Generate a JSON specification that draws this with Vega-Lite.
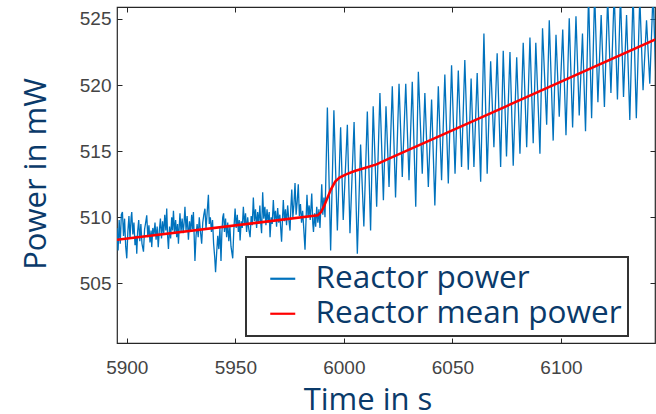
{
  "$schema": "https://vega.github.io/schema/vega-lite/v6.json",
  "autosize": "none",
  "width": 538,
  "height": 336,
  "padding": {"left": 117, "top": 7, "right": 1, "bottom": 71},
  "background": "white",
  "config": {
    "view": {"stroke": "#262626", "strokeWidth": 1.2},
    "axis": {
      "grid": false,
      "domain": false,
      "tickColor": "#262626",
      "tickSize": -5,
      "format": "d",
      "labelFont": "Liberation Sans",
      "labelFontSize": 19,
      "labelColor": "#444444",
      "titleFont": "Open Sans",
      "titleFontSize": 31,
      "titleFontWeight": "normal",
      "titleColor": "#0a3a6a"
    }
  },
  "resolve": {"axis": {"x": "independent", "y": "independent"}},
  "datasets": {
    "power": [
      {"t":5895.5,"p":509.2},{"t":5896.0,"p":507.5},{"t":5896.5,"p":509.8},{"t":5897.0,"p":508.0},{"t":5897.5,"p":510.2},{"t":5898.0,"p":510.4},{"t":5898.5,"p":508.6},{"t":5899.0,"p":509.9},{"t":5899.5,"p":507.8},{"t":5900.0,"p":506.9},
      {"t":5900.5,"p":508.9},{"t":5901.0,"p":510.1},{"t":5901.5,"p":508.4},{"t":5902.0,"p":510.0},{"t":5902.3,"p":510.4},{"t":5902.8,"p":508.7},{"t":5903.3,"p":509.6},{"t":5903.8,"p":507.9},{"t":5904.3,"p":508.6},{"t":5904.6,"p":507.25},
      {"t":5905.0,"p":508.9},{"t":5905.5,"p":509.8},{"t":5906.0,"p":508.2},{"t":5906.5,"p":509.5},{"t":5907.0,"p":508.0},{"t":5907.7,"p":507.4},{"t":5908.2,"p":509.1},{"t":5908.7,"p":509.6},{"t":5909.2,"p":510.15},{"t":5909.7,"p":508.5},
      {"t":5910.2,"p":509.4},{"t":5910.7,"p":508.1},{"t":5911.2,"p":509.0},{"t":5911.5,"p":507.75},{"t":5912.0,"p":509.2},{"t":5912.5,"p":508.6},{"t":5913.0,"p":509.6},{"t":5913.5,"p":508.3},{"t":5914.0,"p":509.3},{"t":5914.5,"p":507.75},
      {"t":5915.0,"p":509.0},{"t":5915.5,"p":509.9},{"t":5916.0,"p":508.4},{"t":5916.5,"p":509.7},{"t":5917.0,"p":508.7},{"t":5917.5,"p":510.2},{"t":5918.0,"p":509.0},{"t":5918.4,"p":510.66},{"t":5918.8,"p":508.6},{"t":5919.2,"p":507.6},
      {"t":5919.7,"p":509.3},{"t":5920.2,"p":508.4},{"t":5920.7,"p":510.0},{"t":5921.1,"p":509.0},{"t":5921.5,"p":510.5},{"t":5922.0,"p":508.8},{"t":5922.5,"p":509.8},{"t":5923.0,"p":508.5},{"t":5923.4,"p":509.5},{"t":5923.8,"p":508.0},
      {"t":5924.2,"p":509.4},{"t":5924.5,"p":510.3},{"t":5925.0,"p":508.9},{"t":5925.5,"p":509.9},{"t":5926.0,"p":508.8},{"t":5926.4,"p":509.6},{"t":5926.8,"p":510.8},{"t":5927.3,"p":509.0},{"t":5927.8,"p":510.1},{"t":5928.4,"p":508.3},
      {"t":5928.9,"p":509.7},{"t":5929.4,"p":508.9},{"t":5929.9,"p":510.2},{"t":5930.3,"p":509.1},{"t":5930.7,"p":510.4},{"t":5931.1,"p":508.3},{"t":5931.4,"p":506.7},{"t":5931.9,"p":508.6},{"t":5932.4,"p":509.5},{"t":5932.9,"p":508.5},
      {"t":5933.4,"p":510.0},{"t":5933.9,"p":509.0},{"t":5934.5,"p":508.0},{"t":5935.0,"p":509.6},{"t":5935.5,"p":510.2},{"t":5936.0,"p":510.65},{"t":5936.5,"p":509.1},{"t":5937.0,"p":510.3},{"t":5937.6,"p":511.7},{"t":5938.0,"p":509.5},
      {"t":5938.5,"p":510.0},{"t":5939.0,"p":508.9},{"t":5939.5,"p":509.8},{"t":5940.0,"p":508.0},{"t":5940.5,"p":507.0},{"t":5940.9,"p":505.85},{"t":5941.4,"p":507.3},{"t":5941.9,"p":508.6},{"t":5942.4,"p":507.6},{"t":5942.9,"p":509.2},
      {"t":5943.4,"p":506.7},{"t":5943.8,"p":508.8},{"t":5944.2,"p":510.0},{"t":5944.6,"p":510.3},{"t":5945.0,"p":508.9},{"t":5945.5,"p":509.9},{"t":5946.0,"p":508.5},{"t":5946.5,"p":509.6},{"t":5947.0,"p":508.2},{"t":5947.5,"p":509.3},
      {"t":5948.0,"p":507.8},{"t":5948.8,"p":506.9},{"t":5949.3,"p":509.0},{"t":5949.9,"p":510.66},{"t":5950.4,"p":509.2},{"t":5950.9,"p":510.2},{"t":5951.4,"p":508.9},{"t":5951.8,"p":509.8},{"t":5952.2,"p":508.26},{"t":5952.7,"p":509.7},
      {"t":5953.2,"p":509.2},{"t":5953.7,"p":510.8},{"t":5954.2,"p":509.4},{"t":5954.7,"p":510.3},{"t":5955.2,"p":508.9},{"t":5955.7,"p":510.0},{"t":5956.2,"p":509.1},{"t":5956.8,"p":508.5},{"t":5957.3,"p":510.1},{"t":5957.8,"p":509.4},
      {"t":5958.3,"p":511.5},{"t":5958.8,"p":509.7},{"t":5959.3,"p":510.6},{"t":5959.8,"p":509.2},{"t":5960.3,"p":510.4},{"t":5960.8,"p":509.5},{"t":5961.3,"p":510.9},{"t":5961.7,"p":509.6},{"t":5962.1,"p":508.8},{"t":5962.6,"p":511.9},
      {"t":5963.1,"p":509.9},{"t":5963.6,"p":510.8},{"t":5964.1,"p":509.4},{"t":5964.6,"p":510.6},{"t":5965.1,"p":509.6},{"t":5965.6,"p":510.4},{"t":5966.0,"p":508.5},{"t":5966.5,"p":510.0},{"t":5967.0,"p":509.5},{"t":5967.5,"p":511.3},
      {"t":5968.0,"p":509.8},{"t":5968.5,"p":510.5},{"t":5969.0,"p":509.3},{"t":5969.5,"p":510.7},{"t":5970.0,"p":509.6},{"t":5970.5,"p":510.2},{"t":5971.3,"p":508.15},{"t":5971.7,"p":509.8},{"t":5972.1,"p":511.3},{"t":5972.6,"p":509.7},
      {"t":5973.1,"p":510.6},{"t":5973.6,"p":509.4},{"t":5974.1,"p":510.9},{"t":5974.6,"p":509.9},{"t":5975.2,"p":509.0},{"t":5975.6,"p":510.8},{"t":5976.0,"p":512.1},{"t":5976.5,"p":510.0},{"t":5977.0,"p":511.0},{"t":5977.5,"p":512.6},
      {"t":5978.0,"p":510.2},{"t":5978.5,"p":511.2},{"t":5979.0,"p":512.5},{"t":5979.5,"p":510.1},{"t":5980.0,"p":511.0},{"t":5980.5,"p":509.6},{"t":5981.0,"p":510.5},{"t":5981.5,"p":509.2},{"t":5982.1,"p":507.55},{"t":5982.5,"p":509.5},
      {"t":5983.0,"p":511.7},{"t":5983.5,"p":510.0},{"t":5984.0,"p":510.9},{"t":5984.5,"p":509.8},{"t":5985.2,"p":511.8},{"t":5985.7,"p":509.5},{"t":5986.0,"p":508.9},{"t":5986.5,"p":510.3},{"t":5987.0,"p":509.3},{"t":5987.5,"p":510.8},
      {"t":5988.0,"p":509.6},{"t":5988.5,"p":510.6},{"t":5989.0,"p":509.2},{"t":5989.8,"p":512.5},{"t":5990.3,"p":510.2},{"t":5990.8,"p":511.5},{"t":5991.3,"p":510.0},{"t":5992.4,"p":518.3},{"t":5993.9,"p":507.5},{"t":5995.4,"p":518.1},
      {"t":5997.0,"p":509.0},{"t":5998.5,"p":516.8},{"t":5999.7,"p":509.8},{"t":6001.6,"p":517.0},{"t":6002.8,"p":508.8},{"t":6004.7,"p":517.2},{"t":6006.2,"p":507.25},{"t":6007.7,"p":515.5},{"t":6009.2,"p":509.3},{"t":6010.8,"p":518.0},
      {"t":6012.3,"p":509.0},{"t":6013.5,"p":518.4},{"t":6015.1,"p":510.8},{"t":6016.6,"p":519.4},{"t":6018.2,"p":511.3},{"t":6019.4,"p":518.4},{"t":6020.8,"p":512.3},{"t":6022.3,"p":519.9},{"t":6023.8,"p":511.5},{"t":6025.4,"p":520.1},
      {"t":6026.9,"p":513.05},{"t":6028.5,"p":520.1},{"t":6030.0,"p":512.8},{"t":6031.5,"p":520.25},{"t":6033.1,"p":510.8},{"t":6034.3,"p":521.0},{"t":6036.1,"p":513.3},{"t":6037.3,"p":519.4},{"t":6038.9,"p":512.3},{"t":6040.4,"p":518.9},
      {"t":6041.9,"p":510.9},{"t":6043.5,"p":519.9},{"t":6045.0,"p":512.8},{"t":6046.5,"p":520.8},{"t":6048.1,"p":512.55},{"t":6049.6,"p":521.5},{"t":6051.2,"p":513.3},{"t":6052.7,"p":521.1},{"t":6054.2,"p":513.8},{"t":6055.7,"p":521.9},
      {"t":6057.3,"p":513.6},{"t":6058.6,"p":520.5},{"t":6059.9,"p":513.8},{"t":6061.4,"p":520.9},{"t":6063.0,"p":512.7},{"t":6064.5,"p":523.9},{"t":6066.0,"p":513.3},{"t":6067.6,"p":521.8},{"t":6069.1,"p":515.3},{"t":6070.6,"p":522.4},
      {"t":6072.2,"p":513.8},{"t":6073.4,"p":522.6},{"t":6074.9,"p":514.6},{"t":6076.5,"p":522.5},{"t":6078.0,"p":513.9},{"t":6079.6,"p":522.1},{"t":6081.1,"p":514.8},{"t":6082.6,"p":523.2},{"t":6084.2,"p":515.3},{"t":6085.7,"p":523.6},
      {"t":6087.2,"p":515.6},{"t":6088.4,"p":523.2},{"t":6090.3,"p":514.8},{"t":6091.5,"p":524.3},{"t":6093.4,"p":517.0},{"t":6094.6,"p":524.9},{"t":6096.4,"p":515.8},{"t":6097.7,"p":523.8},{"t":6099.2,"p":517.6},{"t":6100.8,"p":524.2},
      {"t":6102.3,"p":516.2},{"t":6103.8,"p":525.05},{"t":6105.35,"p":516.8},{"t":6106.9,"p":525.2},{"t":6108.4,"p":517.7},{"t":6109.9,"p":523.9},{"t":6111.3,"p":516.5},{"t":6112.7,"p":526.8},{"t":6114.1,"p":517.5},{"t":6115.5,"p":527.0},
      {"t":6117.0,"p":518.7},{"t":6118.5,"p":525.3},{"t":6120.0,"p":518.35},{"t":6121.5,"p":526.6},{"t":6123.0,"p":519.4},{"t":6124.5,"p":527.0},{"t":6126.0,"p":518.9},{"t":6127.4,"p":526.8},{"t":6128.8,"p":519.1},{"t":6130.2,"p":525.3},
      {"t":6131.7,"p":517.35},{"t":6133.2,"p":527.0},{"t":6134.7,"p":517.5},{"t":6136.3,"p":526.6},{"t":6137.8,"p":519.6},{"t":6139.4,"p":524.9},{"t":6140.9,"p":520.1},{"t":6142.4,"p":527.0},{"t":6143.6,"p":521.0}
    ],
    "mean": [
      {"t":5895.5,"p":508.3},{"t":5988.0,"p":510.15},{"t":5989.5,"p":510.4},{"t":5991.0,"p":510.9},{"t":5992.5,"p":511.5},{"t":5994.0,"p":512.1},{"t":5996.0,"p":512.7},{"t":5998.0,"p":513.0},{"t":6001.0,"p":513.25},{"t":6005.0,"p":513.5},{"t":6010.0,"p":513.75},{"t":6015.0,"p":514.0},{"t":6021.0,"p":514.45},{"t":6143.5,"p":523.45}
    ]
  },
  "layer": [
    {
      "data": {"name": "power"},
      "mark": {"type": "line", "strokeWidth": 1.3, "clip": true},
      "encoding": {
        "x": {"field": "t", "type": "quantitative", "scale": {"domain": [5895.5, 6143.3], "nice": false, "zero": false},
          "axis": {"values": [5900, 5950, 6000, 6050, 6100], "title": "Time in s", "labelPadding": 20, "titleX": 250.5, "titleY": 66, "titleBaseline": "alphabetic", "titleAlign": "center"}},
        "y": {"field": "p", "type": "quantitative", "scale": {"domain": [500.5, 525.9], "nice": false, "zero": false},
          "axis": {"values": [505, 510, 515, 520, 525], "title": "Power in mW", "labelPadding": 11, "titleX": -72, "titleY": 166.5, "titleBaseline": "alphabetic", "titleAngle": -90, "titleAlign": "center"}},
        "color": {"datum": "Reactor power", "type": "nominal",
          "scale": {"domain": ["Reactor power", "Reactor mean power"], "range": ["#0072BD", "#FF0000"]},
          "legend": {"title": null, "orient": "none", "legendX": 129, "legendY": 250, "padding": 6,
            "strokeColor": "#333333", "fillColor": "white", "symbolType": "stroke", "symbolSize": 625, "symbolStrokeWidth": 2.2, "symbolOffset": 15,
            "labelFont": "Open Sans", "labelFontSize": 31.5, "labelColor": "#0a3a6a", "labelLimit": 600, "labelOffset": 17, "rowPadding": 2,
            "labelExpr": "datum.label + '\u00a0\u00a0'",
            "encode": {"legend": {"update": {"strokeWidth": {"value": 2}}}}}}
      }
    },
    {
      "data": {"name": "mean"},
      "mark": {"type": "line", "strokeWidth": 2.5, "clip": true},
      "encoding": {
        "x": {"field": "t", "type": "quantitative", "axis": null},
        "y": {"field": "p", "type": "quantitative", "axis": null},
        "color": {"datum": "Reactor mean power", "type": "nominal"}
      }
    },
    {
      "data": {"name": "mean"},
      "mark": {"type": "line", "opacity": 0, "clip": true},
      "encoding": {
        "x": {"field": "t", "type": "quantitative", "axis": {"orient": "top", "values": [5900, 5950, 6000, 6050, 6100], "labels": false, "title": null}},
        "y": {"field": "p", "type": "quantitative", "axis": {"orient": "right", "values": [505, 510, 515, 520, 525], "labels": false, "title": null}}
      }
    }
  ]
}
